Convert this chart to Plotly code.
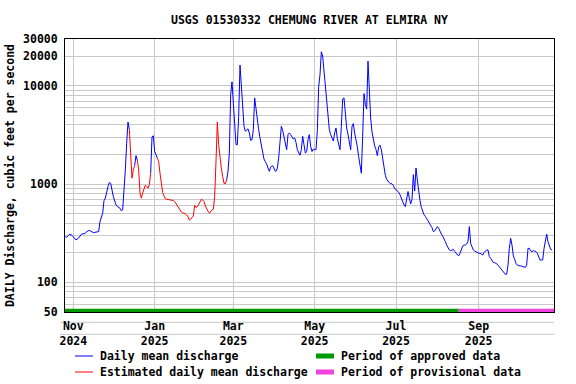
import plotly.graph_objects as go
import pandas as pd

# ---------------- data ----------------
title_text = "USGS 01530332 CHEMUNG RIVER AT ELMIRA NY"
y_title = "DAILY Discharge, cubic feet per second"

origin = "2024-11-01"          # day_offset 0
day_offset = [
    -6, -5, -3, -1, 2, 4, 6, 9, 10, 12, 15, 17, 19, 20, 22, 23, 24, 26, 27, 28,
    29, 30, 32, 33, 35, 36, 37, 38, 39, 40, 41, 42, 43, 44, 45, 46, 47, 48, 49, 50,
    51, 52, 53, 54, 55, 56, 57, 58, 59, 60, 61, 62, 63, 64, 65, 66, 67, 68, 69, 70,
    71, 72, 73, 74, 75, 76, 77, 78, 79, 80, 81, 82, 83, 84, 85, 86, 87, 88, 89, 90,
    91, 92, 93, 94, 95, 96, 97, 98, 99, 100, 101, 102, 103, 104, 105, 106, 107, 108, 109, 110,
    111, 112, 113, 114, 115, 116, 117, 118, 119, 120, 121, 122, 123, 124, 125, 126, 127, 128, 129, 130,
    131, 132, 133, 134, 135, 136, 137, 138, 139, 140, 141, 142, 143, 144, 145, 146, 147, 148, 149, 150,
    151, 152, 153, 154, 155, 156, 157, 158, 159, 160, 161, 162, 163, 164, 165, 166, 167, 168, 169, 170,
    171, 172, 173, 174, 175, 176, 177, 178, 179, 180, 181, 182, 183, 184, 185, 186, 187, 188, 189, 190,
    191, 192, 193, 194, 195, 196, 197, 198, 199, 200, 201, 202, 203, 204, 205, 206, 207, 208, 209, 210,
    211, 212, 213, 214, 215, 216, 217, 218, 219, 220, 221, 222, 223, 224, 225, 226, 227, 228, 229, 230,
    231, 232, 233, 234, 235, 236, 237, 238, 239, 240, 241, 242, 243, 244, 245, 246, 247, 248, 249, 250,
    251, 252, 253, 254, 255, 256, 257, 258, 259, 260, 261, 262, 263, 264, 265, 266, 267, 268, 269, 270,
    271, 272, 273, 274, 275, 276, 277, 278, 279, 280, 281, 282, 283, 284, 285, 286, 287, 288, 289, 290,
    291, 292, 293, 294, 295, 296, 297, 298, 299, 300, 301, 302, 303, 304, 305, 306, 307, 308, 309, 310,
    311, 312, 313, 314, 315, 316, 317, 318, 319, 320, 321, 322, 323, 324, 325, 326, 327, 328, 329, 330,
    331, 332, 333, 334, 335, 336, 337, 338, 339, 340, 341, 342, 343, 344, 345, 346, 347, 348, 349, 350,
    351, 352, 353, 354, 355, 356, 357, 358, 359,
]
discharge = [
    292, 288, 309, 302, 270, 283, 309, 316, 329, 339, 321, 326, 329, 416, 506, 681, 720, 947, 1040, 1020,
    875, 748, 615, 592, 569, 535, 547, 800, 1400, 2600, 4290, 3590, 1800, 1150, 1400, 1550, 1950, 1750, 1400, 810,
    720, 810, 889, 977, 947, 910, 990, 1290, 3020, 3110, 2150, 1990, 1840, 1700, 1290, 977, 822, 760, 710, 703,
    700, 692, 692, 690, 681, 665, 630, 600, 569, 540, 520, 510, 506, 500, 486, 465, 430, 440, 455, 475,
    606, 580, 590, 620, 665, 700, 690, 665, 600, 556, 530, 506, 530, 545, 556, 748, 1700, 4290, 2520, 1840,
    1450, 1200, 1020, 1010, 1110, 1350, 2070, 8160, 10990, 6710, 4000, 2520, 2520, 4900, 16250, 10800, 5740, 3880, 3450, 3590,
    3660, 3320, 2790, 2840, 3590, 7550, 5740, 4530, 3590, 2950, 2520, 2040, 1800, 1690, 1600, 1460, 1350, 1490, 1540, 1510,
    1380, 1350, 1460, 1840, 2840, 3880, 3530, 3110, 2620, 2240, 3190, 3320, 3190, 3020, 2880, 2950, 2660, 2240, 2070, 1970,
    2240, 3070, 2520, 2070, 2150, 2840, 3190, 2420, 2150, 2280, 2240, 2240, 3500, 9770, 13000, 22230, 20090, 14000, 9000, 6300,
    4700, 3590, 3190, 3000, 2750, 3320, 3730, 2900, 2450, 2240, 3880, 7370, 7550, 5000, 3730, 3200, 2520, 2240, 3880, 4130,
    3300, 2840, 2400, 1900, 1510, 1290, 3070, 8350, 6500, 5800, 17850, 7850, 4700, 3400, 2730, 2450, 2250, 1950, 2400, 2500,
    2240, 1800, 1450, 1230, 1120, 1070, 1030, 1010, 1010, 970, 900, 880, 860, 830, 780, 720, 650, 615, 592, 720,
    841, 720, 630, 700, 1250, 850, 1460, 1100, 822, 681, 580, 520, 490, 470, 450, 425, 400, 385, 361, 329,
    334, 350, 370, 356, 329, 311, 297, 281, 260, 240, 222, 214, 210, 214, 217, 206, 198, 190, 186, 198,
    222, 235, 240, 240, 246, 260, 370, 250, 231, 214, 209, 204, 201, 198, 198, 195, 190, 201, 209, 214,
    214, 183, 176, 169, 159, 159, 156, 153, 147, 141, 136, 132, 124, 121, 121, 150, 222, 281, 240, 186,
    172, 156, 150, 148, 147, 147, 145, 142, 142, 150, 222, 222, 209, 206, 210, 209, 206, 198, 183, 169,
    169, 169, 220, 270, 311, 260, 231, 217, 214,
]
# estimated-value periods (inclusive day_offset ranges)
estimated_ranges = [(42, 46), (48, 58), (63, 115)]

approved_period = ["2024-10-25", "2025-08-17"]
provisional_period = ["2025-08-17", "2025-10-28"]

x_tick_dates = ["2024-11-01", "2025-01-01", "2025-03-01", "2025-05-01", "2025-07-01", "2025-09-01"]
x_tick_labels = ["Nov<br>2024", "Jan<br>2025", "Mar<br>2025", "May<br>2025", "Jul<br>2025", "Sep<br>2025"]

y_grid_values = [50, 60, 70, 80, 90, 100, 200, 300, 400, 500, 600, 700, 800, 900,
                 1000, 2000, 3000, 4000, 5000, 6000, 7000, 8000, 9000, 10000, 20000, 30000]
y_labelled = [50, 100, 1000, 10000, 20000, 30000]

legend_labels = ["Daily mean discharge", "Estimated daily mean discharge",
                 "Period of approved data", "Period of provisional data"]

# ---------------- build ----------------
BLUE, RED, GREEN, PINK = "#0000ff", "#ff0000", "#009900", "#ee44dd"
FONT = "DejaVu Sans Mono"
FS = 11.5

dates = pd.Timestamp(origin) + pd.to_timedelta(day_offset, unit="D")


def in_est(d, strict):
    for a, b in estimated_ranges:
        if (a < d < b) if strict else (a <= d <= b):
            return True
    return False


blue_y = [None if in_est(d, True) else q for d, q in zip(day_offset, discharge)]
red_y = [q if in_est(d, False) else None for d, q in zip(day_offset, discharge)]

fig = go.Figure()
fig.add_trace(go.Scatter(x=dates, y=blue_y, mode="lines", name=legend_labels[0],
                         line=dict(color=BLUE, width=1), showlegend=False))
fig.add_trace(go.Scatter(x=dates, y=red_y, mode="lines", name=legend_labels[1],
                         line=dict(color=RED, width=1), showlegend=False))
fig.add_trace(go.Scatter(x=approved_period, y=[51.5, 51.5], mode="lines", name=legend_labels[2],
                         line=dict(color=GREEN, width=4), showlegend=False))
fig.add_trace(go.Scatter(x=provisional_period, y=[51.5, 51.5], mode="lines", name=legend_labels[3],
                         line=dict(color=PINK, width=4), showlegend=False))

W, H = 576, 384
L, R, T, B = 65, 22, 39, 72
pw, ph = W - L - R, H - T - B


def px(x):
    return (x - L) / pw


def py(y):
    return (H - B - y) / ph


font = dict(family=FONT, size=FS, color="black", weight="bold")

shapes = []
annotations = []
# faint rules under x tick labels
for yy in (322.3, 334.3):
    shapes.append(dict(type="line", xref="paper", yref="paper", x0=px(60), x1=1.0,
                       y0=py(yy), y1=py(yy), line=dict(color="#c8c8c8", width=1), layer="below"))
# manual legend
leg = [(75, 356, BLUE, 1, 0), (75, 372, RED, 1, 1), (316, 356, GREEN, 5, 2), (316, 372, PINK, 5, 3)]
for x0, yy, col, w, i in leg:
    shapes.append(dict(type="line", xref="paper", yref="paper", x0=px(x0), x1=px(x0 + 18),
                       y0=py(yy), y1=py(yy), line=dict(color=col, width=w)))
    annotations.append(dict(xref="paper", yref="paper", x=px(x0 + 23), y=py(yy),
                            xanchor="left", yanchor="middle", text=legend_labels[i],
                            showarrow=False, font=font))

fig.update_layout(
    width=W, height=H,
    margin=dict(l=L, r=R, t=T, b=B, autoexpand=False),
    paper_bgcolor="white", plot_bgcolor="white",
    title=dict(text=title_text, font=font, x=0.5, xref="paper",
               y=1 - 20 / H, yref="container", xanchor="center", yanchor="middle"),
    shapes=shapes, annotations=annotations,
    showlegend=False,
)
fig.update_xaxes(
    type="date", range=["2024-10-25 18:00", "2025-10-27 12:00"],
    tickmode="array", tickvals=x_tick_dates, ticktext=x_tick_labels,
    tickfont=font, showgrid=True, gridcolor="#c8c8c8", gridwidth=1,
    showline=True, linecolor="black", linewidth=1, mirror=True,
    ticks="", zeroline=False, automargin=False, tickangle=0,
    ticklabelstandoff=3,
)
fig.update_yaxes(
    type="log", range=[1.69897, 4.47712],
    tickmode="array", tickvals=y_grid_values,
    ticktext=[str(v) if v in y_labelled else "" for v in y_grid_values],
    tickfont=font, showgrid=True, gridcolor="#c8c8c8", gridwidth=1,
    showline=True, linecolor="black", linewidth=1, mirror=True,
    ticks="", zeroline=False, automargin=False,
    title=dict(text=y_title, font=font, standoff=6),
    ticklabelstandoff=4,
)

fig.write_html("out.html", config={"displayModeBar": False},
               post_script="document.body.style.margin='0';document.body.style.overflow='hidden';")
